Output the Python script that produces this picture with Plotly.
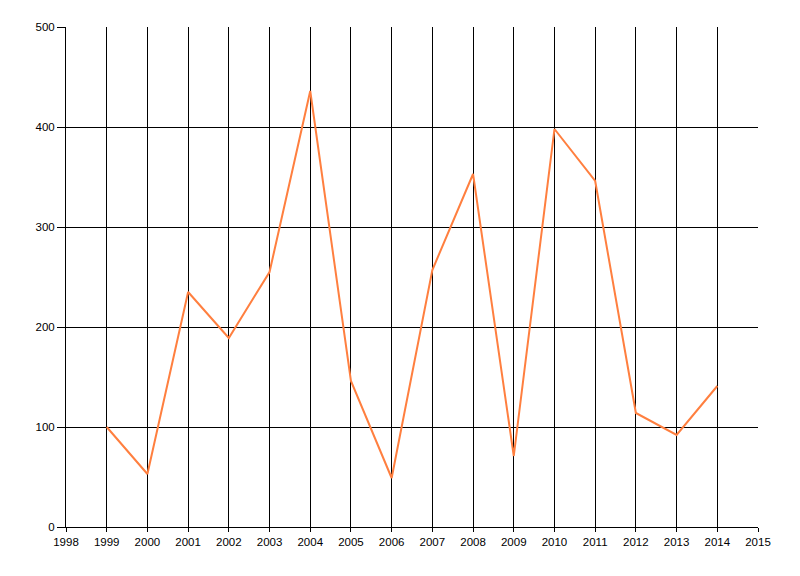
import plotly.graph_objects as go

years = list(range(1999, 2015))
values = [100, 53, 235, 189, 255, 436, 146, 49, 257, 353, 71, 398, 346, 114, 92, 141]
x_ticks = list(range(1998, 2016))
y_ticks = [0, 100, 200, 300, 400, 500]

fig = go.Figure()
fig.add_trace(go.Scatter(
    x=years, y=values, mode="lines",
    line=dict(color="#FF7F3F", width=2),
    showlegend=False,
))

axis_common = dict(
    showgrid=True, gridcolor="black", gridwidth=1,
    showline=True, linecolor="black", linewidth=1,
    ticks="outside", tickcolor="black", tickwidth=1,
    zeroline=False,
    tickfont=dict(family="Liberation Sans", size=11.5, color="black"),
)

fig.update_layout(
    width=792, height=568,
    margin=dict(l=58, r=42, t=19, b=49, autoexpand=False),
    paper_bgcolor="white", plot_bgcolor="white",
    xaxis=dict(range=[1998, 2015], tickvals=x_ticks, ticklen=4,
               ticktext=[str(v) for v in x_ticks], **axis_common),
    yaxis=dict(range=[0, 500], tickvals=y_ticks, ticklen=8,
               ticktext=[str(v) for v in y_ticks], **axis_common),
)

fig.write_html("out.html")
